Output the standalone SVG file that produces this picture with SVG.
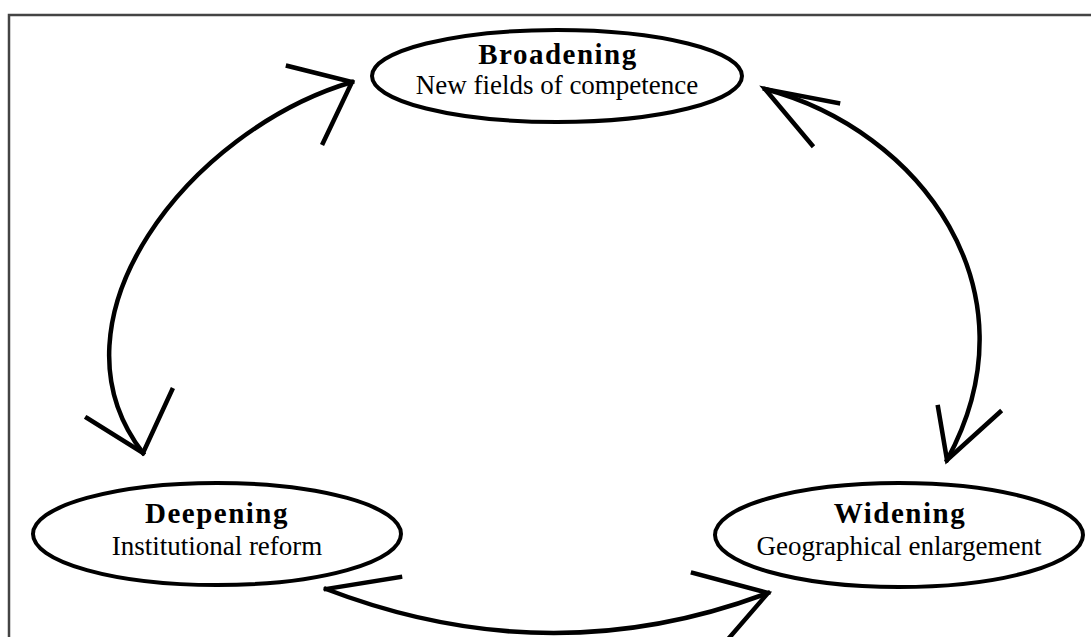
<svg xmlns="http://www.w3.org/2000/svg" width="1091" height="637" viewBox="0 0 1091 637">
<style>
.node ellipse{fill:#fff;stroke:#000;stroke-width:4}
.t{font-family:"Liberation Serif","Times New Roman",serif;fill:#000;text-anchor:middle}
.b{font-size:29px;font-weight:bold;letter-spacing:1.5px}
.r{font-size:27px}
.c path{fill:none;stroke:#000;stroke-width:4.5;stroke-linecap:square;stroke-linejoin:miter}
</style>
<rect width="1091" height="637" fill="#fff"/>
<path d="M9,637 V15 H1091" fill="none" stroke="#444" stroke-width="2.5"/>
<g id="broadening" class="node">
<ellipse cx="557" cy="76" rx="185" ry="46"/>
<text class="t b" x="558" y="64">Broadening</text>
<text class="t r" x="557" y="94">New fields of competence</text>
</g>
<g id="deepening" class="node">
<ellipse cx="217" cy="534" rx="184" ry="51"/>
<text class="t b" x="217" y="523">Deepening</text>
<text class="t r" x="217" y="555">Institutional reform</text>
</g>
<g id="widening" class="node">
<ellipse cx="899" cy="535" rx="184" ry="52"/>
<text class="t b" x="900" y="523">Widening</text>
<text class="t r" x="899" y="555">Geographical enlargement</text>
</g>
<g id="connectors" class="c">
<path d="M352,82 C190,130 40,320 143,453"/>
<path d="M288,66 L352,82 L323,143"/>
<path d="M87,418 L143,453 L172,390"/>
<path d="M765,89 C920,130 1040,290 947,460"/>
<path d="M838,103 L765,89 L812,145"/>
<path d="M938,407 L947,460 L1000,412"/>
<path d="M326,589 Q550,675 768,593"/>
<path d="M400,577 L326,589"/>
<path d="M693,573 L768,593 L723,645"/>
</g>
</svg>
